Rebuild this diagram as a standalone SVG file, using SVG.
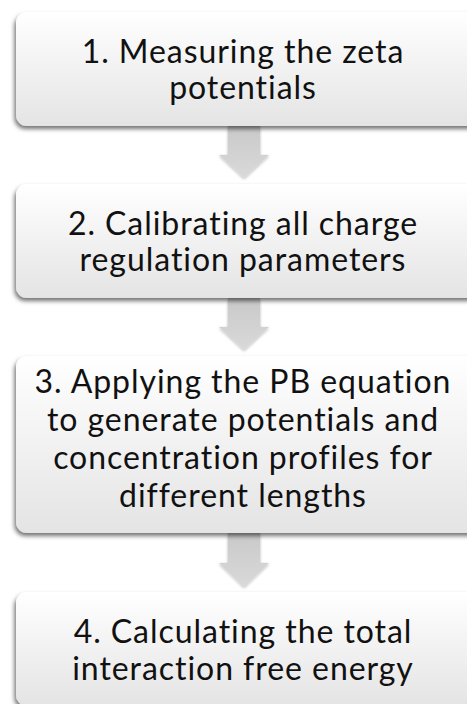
<svg xmlns="http://www.w3.org/2000/svg" width="467" height="704" viewBox="0 0 467 704">
  <defs>
    <linearGradient id="boxFill" x1="0" y1="0" x2="0" y2="1">
      <stop offset="0" stop-color="#ffffff"/>
      <stop offset="1" stop-color="#e4e4e4"/>
    </linearGradient>
    <linearGradient id="arrowFill" x1="0" y1="0" x2="0" y2="1">
      <stop offset="0" stop-color="#c9c9c9"/>
      <stop offset="1" stop-color="#d9d9d9"/>
    </linearGradient>
    <filter id="shadow" x="-10%" y="-10%" width="120%" height="130%">
      <feDropShadow dx="-1.5" dy="3" stdDeviation="2" flood-color="#000" flood-opacity="0.55"/>
    </filter>
    <filter id="arrowShadow" x="-20%" y="-20%" width="140%" height="140%">
      <feDropShadow dx="0" dy="1" stdDeviation="1.5" flood-color="#000" flood-opacity="0.3"/>
    </filter>
  </defs>
  <style>
    .box { fill: url(#boxFill); filter: url(#shadow); }
    .arrow { fill: url(#arrowFill); filter: url(#arrowShadow); }
    .label { font-family: Lato, Carlito, "Open Sans", sans-serif; font-size: 32px; letter-spacing: 0.95px; font-variant-ligatures: none; font-feature-settings: "liga" 0; fill: #111; text-anchor: middle; }
  </style>

  <!-- connectors: block arrows between steps -->
  <g id="connectors">
    <path class="arrow" d="M228 126 H260 V155 H269 L244 178 L219 155 H228 Z"/>
    <path class="arrow" d="M228 298 H260 V327 H269 L244 350 L219 327 H228 Z"/>
    <path class="arrow" d="M228 533 H260 V563 H269 L244 587 L219 563 H228 Z"/>
  </g>

  <g id="step1">
    <rect class="box" x="16" y="12" width="470" height="114" rx="11"/>
    <text class="label" x="243" y="63">1. Measuring the zeta</text>
    <text class="label" x="243" y="99">potentials</text>
  </g>

  <g id="step2">
    <rect class="box" x="16" y="184" width="470" height="114" rx="11"/>
    <text class="label" x="243" y="235">2. Calibrating all charge</text>
    <text class="label" x="243" y="271">regulation parameters</text>
  </g>

  <g id="step3">
    <rect class="box" x="16" y="356" width="470" height="177" rx="11"/>
    <text class="label" x="243" y="393">3. Applying the PB equation</text>
    <text class="label" x="243" y="431">to generate potentials and</text>
    <text class="label" x="243" y="469">concentration profiles for</text>
    <text class="label" x="243" y="507">different lengths</text>
  </g>

  <g id="step4">
    <rect class="box" x="16" y="592" width="470" height="114" rx="11"/>
    <text class="label" x="243" y="643">4. Calculating the total</text>
    <text class="label" x="243" y="680">interaction free energy</text>
  </g>
</svg>
